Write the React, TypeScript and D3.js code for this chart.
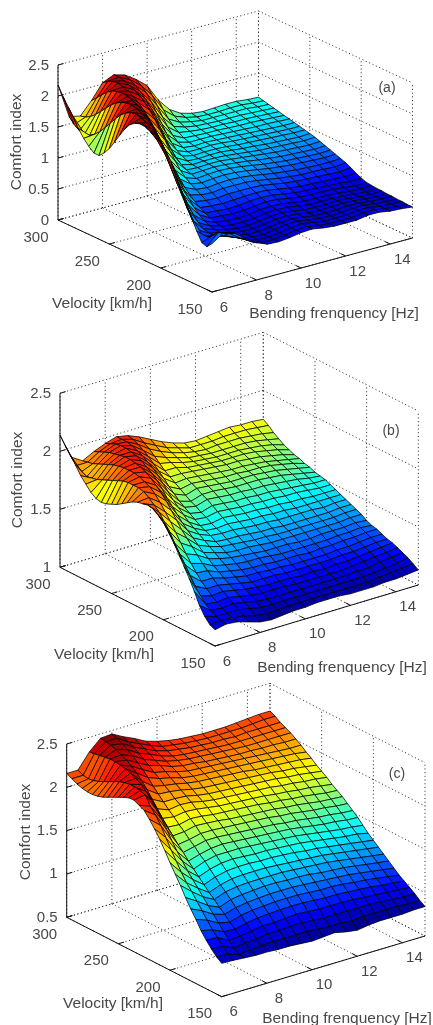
import { useEffect, useRef } from 'react';
import * as d3 from 'd3';

const velocities = d3.range(300, 149, -5);
const frequencies = d3.range(6, 15.01, 0.5);
const velocityTicks = [300, 250, 200, 150];
const frequencyTicks = [6, 8, 10, 12, 14];

// comfort index, one list per bending frequency (6..15 Hz), velocity 300 -> 150 km/h
const comfortA = [
  [2.18,2.03,1.90,1.78,1.63,1.51,1.42,1.35,1.35,1.43,1.54,1.68,1.83,1.97,2.08,2.14,2.17,2.16,2.12,2.07,2.02,1.91,1.79,1.60,1.41,1.21,1.05,.87,.72,.69,.78],
  [1.62,1.53,1.47,1.45,1.47,1.53,1.61,1.71,1.82,1.93,2.03,2.10,2.15,2.16,2.14,2.10,2.05,1.97,1.85,1.70,1.53,1.36,1.20,1.03,.88,.76,.70,.72,.79,.87,.90],
  [1.58,1.60,1.65,1.72,1.81,1.90,1.99,2.06,2.11,2.14,2.14,2.12,2.08,2.03,1.95,1.83,1.70,1.55,1.40,1.25,1.10,.96,.84,.75,.69,.66,.66,.69,.74,.81,.85],
  [1.78,1.86,1.95,2.03,2.09,2.12,2.13,2.12,2.09,2.05,1.99,1.92,1.83,1.72,1.59,1.45,1.31,1.17,1.04,.93,.83,.75,.69,.65,.63,.62,.62,.63,.66,.69,.72],
  [2.02,2.08,2.12,2.13,2.11,2.08,2.03,1.97,1.89,1.80,1.69,1.56,1.42,1.29,1.16,1.05,.95,.87,.80,.74,.69,.65,.62,.60,.58,.57,.56,.56,.57,.58,.60],
  [2.10,2.10,2.08,2.05,2.01,1.96,1.89,1.80,1.69,1.56,1.43,1.29,1.17,1.06,.98,.92,.87,.82,.77,.72,.68,.64,.60,.57,.55,.54,.53,.53,.52,.52,.53],
  [2.05,2.01,1.96,1.90,1.82,1.72,1.60,1.46,1.32,1.20,1.10,1.03,.98,.95,.92,.89,.85,.81,.76,.71,.66,.62,.59,.57,.55,.54,.53,.52,.52,.52,.52],
  [1.93,1.87,1.79,1.68,1.55,1.41,1.28,1.17,1.09,1.04,1.00,.98,.97,.96,.94,.91,.87,.83,.78,.72,.67,.63,.60,.58,.57,.56,.55,.55,.54,.54,.54],
  [1.78,1.66,1.53,1.39,1.27,1.17,1.10,1.05,1.02,1.00,.99,.99,.98,.97,.95,.92,.88,.83,.78,.73,.69,.65,.63,.61,.60,.59,.58,.58,.57,.57,.57],
  [1.50,1.38,1.27,1.19,1.13,1.08,1.05,1.03,1.02,1.01,1.00,.99,.98,.96,.94,.91,.87,.83,.78,.74,.70,.67,.64,.62,.61,.60,.59,.59,.59,.58,.58],
  [1.30,1.23,1.17,1.13,1.10,1.07,1.05,1.04,1.03,1.01,1.00,.98,.96,.94,.92,.89,.85,.81,.77,.73,.69,.66,.63,.61,.59,.58,.57,.56,.56,.55,.55],
  [1.19,1.16,1.13,1.10,1.08,1.06,1.05,1.03,1.02,1.00,.98,.96,.94,.92,.89,.86,.82,.78,.74,.70,.66,.63,.60,.58,.56,.55,.54,.54,.53,.53,.53],
  [1.14,1.12,1.10,1.09,1.07,1.06,1.04,1.02,1.00,.98,.96,.94,.92,.89,.86,.83,.79,.75,.71,.67,.63,.60,.58,.56,.55,.54,.54,.53,.53,.53,.53],
  [1.12,1.11,1.10,1.08,1.07,1.05,1.03,1.01,.99,.97,.95,.92,.90,.87,.84,.81,.77,.73,.69,.65,.62,.59,.57,.56,.55,.55,.54,.54,.54,.53,.53],
  [1.13,1.11,1.10,1.08,1.06,1.04,1.02,1.00,.98,.96,.93,.91,.88,.85,.82,.79,.75,.71,.68,.64,.61,.59,.57,.56,.56,.56,.56,.56,.56,.56,.56],
  [1.14,1.12,1.10,1.08,1.06,1.04,1.01,.99,.97,.95,.92,.90,.87,.84,.81,.78,.74,.71,.67,.63,.60,.58,.56,.55,.55,.55,.55,.56,.56,.56,.56],
  [1.14,1.12,1.10,1.07,1.05,1.03,1.01,.98,.96,.94,.91,.89,.86,.83,.80,.77,.73,.70,.66,.62,.59,.56,.54,.53,.53,.53,.53,.53,.53,.53,.53],
  [1.12,1.10,1.08,1.06,1.04,1.02,1.00,.97,.95,.93,.90,.88,.85,.82,.79,.76,.73,.69,.65,.61,.57,.54,.53,.52,.52,.52,.52,.52,.52,.52,.52],
  [1.11,1.09,1.07,1.05,1.03,1.01,.99,.97,.95,.93,.91,.89,.86,.83,.80,.77,.74,.71,.67,.62,.58,.55,.54,.53,.53,.52,.52,.51,.51,.50,.50],
];

const comfortB = [
  [2.14,2.07,2.01,1.95,1.88,1.83,1.78,1.75,1.74,1.75,1.77,1.79,1.82,1.85,1.88,1.90,1.91,1.92,1.91,1.88,1.84,1.78,1.71,1.63,1.55,1.47,1.38,1.28,1.21,1.16,1.14],
  [1.92,1.87,1.84,1.82,1.83,1.84,1.86,1.88,1.90,1.92,1.94,1.95,1.95,1.95,1.94,1.91,1.87,1.83,1.77,1.71,1.63,1.56,1.49,1.42,1.35,1.29,1.24,1.21,1.18,1.17,1.16],
  [1.86,1.87,1.88,1.90,1.92,1.94,1.96,1.97,1.98,1.98,1.98,1.97,1.95,1.93,1.89,1.84,1.78,1.72,1.65,1.58,1.51,1.45,1.39,1.34,1.30,1.26,1.23,1.20,1.18,1.16,1.15],
  [1.91,1.93,1.95,1.97,1.98,1.99,2.00,2.00,1.99,1.98,1.96,1.93,1.89,1.85,1.80,1.74,1.68,1.62,1.57,1.52,1.47,1.42,1.38,1.34,1.30,1.27,1.24,1.21,1.18,1.15,1.12],
  [1.95,1.97,1.99,2.00,2.00,1.99,1.98,1.96,1.93,1.90,1.86,1.81,1.75,1.70,1.65,1.60,1.56,1.52,1.48,1.44,1.41,1.37,1.34,1.31,1.28,1.25,1.22,1.19,1.16,1.12,1.09],
  [1.98,1.98,1.98,1.97,1.95,1.93,1.90,1.87,1.83,1.78,1.73,1.68,1.64,1.60,1.56,1.53,1.50,1.47,1.44,1.41,1.38,1.35,1.32,1.29,1.26,1.23,1.20,1.17,1.14,1.11,1.08],
  [1.96,1.95,1.93,1.90,1.87,1.83,1.79,1.75,1.70,1.66,1.62,1.59,1.56,1.53,1.50,1.48,1.46,1.43,1.41,1.38,1.36,1.33,1.30,1.27,1.24,1.22,1.19,1.16,1.14,1.11,1.09],
  [1.92,1.89,1.86,1.82,1.78,1.74,1.71,1.68,1.65,1.62,1.59,1.57,1.54,1.52,1.49,1.47,1.45,1.42,1.40,1.37,1.35,1.32,1.29,1.27,1.24,1.21,1.19,1.16,1.14,1.12,1.10],
  [1.87,1.84,1.81,1.78,1.76,1.74,1.71,1.69,1.67,1.65,1.62,1.60,1.57,1.54,1.51,1.48,1.45,1.42,1.39,1.37,1.34,1.32,1.29,1.26,1.24,1.21,1.19,1.16,1.14,1.12,1.10],
  [1.82,1.79,1.77,1.75,1.73,1.71,1.70,1.68,1.66,1.64,1.62,1.59,1.56,1.53,1.50,1.47,1.44,1.41,1.38,1.36,1.33,1.31,1.28,1.26,1.23,1.21,1.18,1.16,1.14,1.12,1.11],
  [1.78,1.76,1.74,1.72,1.71,1.70,1.69,1.67,1.65,1.63,1.61,1.58,1.55,1.52,1.49,1.46,1.43,1.40,1.38,1.35,1.33,1.30,1.28,1.25,1.23,1.20,1.18,1.16,1.14,1.12,1.11],
  [1.75,1.73,1.72,1.71,1.70,1.69,1.68,1.66,1.64,1.62,1.60,1.58,1.55,1.52,1.49,1.46,1.43,1.40,1.37,1.35,1.33,1.30,1.28,1.25,1.23,1.21,1.18,1.16,1.14,1.12,1.11],
  [1.74,1.73,1.71,1.70,1.69,1.68,1.67,1.65,1.64,1.62,1.60,1.57,1.54,1.51,1.48,1.45,1.42,1.39,1.37,1.35,1.32,1.30,1.27,1.25,1.23,1.20,1.18,1.16,1.14,1.12,1.10],
  [1.75,1.73,1.72,1.70,1.69,1.68,1.67,1.65,1.63,1.62,1.60,1.57,1.54,1.51,1.48,1.45,1.42,1.39,1.37,1.35,1.32,1.30,1.28,1.25,1.23,1.21,1.18,1.16,1.14,1.12,1.10],
  [1.76,1.74,1.72,1.70,1.69,1.68,1.66,1.64,1.63,1.61,1.59,1.56,1.53,1.50,1.47,1.44,1.42,1.39,1.37,1.35,1.33,1.30,1.28,1.26,1.24,1.21,1.19,1.17,1.14,1.12,1.10],
  [1.77,1.74,1.72,1.70,1.68,1.67,1.65,1.63,1.62,1.60,1.58,1.55,1.52,1.50,1.47,1.44,1.42,1.39,1.37,1.35,1.33,1.31,1.29,1.26,1.24,1.22,1.20,1.17,1.15,1.13,1.11],
  [1.76,1.74,1.71,1.69,1.67,1.65,1.63,1.61,1.60,1.58,1.56,1.54,1.51,1.49,1.46,1.44,1.41,1.39,1.37,1.35,1.33,1.31,1.29,1.27,1.25,1.23,1.21,1.19,1.16,1.14,1.11],
  [1.76,1.73,1.70,1.67,1.65,1.63,1.61,1.59,1.58,1.56,1.54,1.52,1.50,1.48,1.46,1.44,1.42,1.40,1.38,1.36,1.34,1.32,1.30,1.28,1.26,1.24,1.22,1.20,1.17,1.15,1.12],
  [1.75,1.72,1.68,1.65,1.62,1.60,1.58,1.57,1.55,1.54,1.52,1.51,1.50,1.48,1.46,1.44,1.42,1.40,1.38,1.36,1.33,1.31,1.30,1.28,1.26,1.25,1.23,1.21,1.19,1.16,1.13],
];

const comfortC = [
  [2.16,2.13,2.10,2.08,2.07,2.07,2.08,2.10,2.13,2.16,2.19,2.22,2.245,2.25,2.22,2.19,2.12,2.04,1.95,1.85,1.74,1.64,1.54,1.43,1.33,1.24,1.14,1.06,.99,.93,.885],
  [2.16,2.13,2.12,2.13,2.15,2.18,2.21,2.24,2.27,2.29,2.30,2.30,2.29,2.27,2.17,2.10,2.01,1.90,1.79,1.69,1.59,1.50,1.43,1.35,1.27,1.19,1.11,1.05,.98,.92,.88],
  [2.33,2.34,2.35,2.36,2.37,2.37,2.36,2.35,2.33,2.30,2.26,2.21,2.14,2.06,1.98,1.89,1.79,1.70,1.62,1.54,1.47,1.40,1.33,1.26,1.19,1.12,1.05,.98,.92,.88,.87],
  [2.45,2.44,2.43,2.41,2.38,2.35,2.31,2.26,2.20,2.13,2.05,1.97,1.89,1.82,1.75,1.68,1.62,1.55,1.49,1.43,1.37,1.31,1.26,1.20,1.15,1.09,1.04,.99,.94,.89,.86],
  [2.46,2.44,2.41,2.37,2.33,2.28,2.23,2.17,2.10,2.04,1.98,1.92,1.87,1.81,1.76,1.70,1.65,1.59,1.54,1.48,1.42,1.36,1.31,1.25,1.19,1.13,1.07,1.01,.95,.90,.86],
  [2.39,2.36,2.33,2.29,2.25,2.21,2.16,2.12,2.07,2.03,1.98,1.94,1.89,1.84,1.79,1.73,1.68,1.62,1.57,1.51,1.45,1.39,1.33,1.27,1.21,1.15,1.09,1.03,.97,.91,.85],
  [2.33,2.30,2.27,2.24,2.20,2.17,2.13,2.09,2.05,2.01,1.97,1.93,1.88,1.83,1.78,1.73,1.68,1.63,1.57,1.52,1.46,1.40,1.34,1.28,1.22,1.16,1.10,1.03,.97,.91,.85],
  [2.26,2.24,2.21,2.18,2.15,2.12,2.09,2.05,2.02,1.98,1.94,1.90,1.86,1.81,1.77,1.72,1.67,1.62,1.57,1.51,1.46,1.40,1.34,1.29,1.23,1.17,1.11,1.04,.98,.91,.84],
  [2.22,2.19,2.17,2.14,2.12,2.09,2.06,2.03,2.00,1.96,1.92,1.88,1.84,1.80,1.75,1.71,1.66,1.61,1.56,1.50,1.45,1.40,1.34,1.29,1.23,1.17,1.11,1.05,.98,.91,.83],
  [2.19,2.17,2.15,2.12,2.10,2.08,2.05,2.02,1.99,1.95,1.91,1.87,1.83,1.79,1.74,1.70,1.65,1.60,1.55,1.50,1.45,1.39,1.34,1.28,1.23,1.17,1.11,1.04,.97,.90,.84],
  [2.17,2.15,2.13,2.11,2.09,2.06,2.04,2.01,1.98,1.94,1.90,1.86,1.82,1.78,1.73,1.69,1.64,1.59,1.54,1.49,1.44,1.38,1.33,1.28,1.22,1.16,1.10,1.03,.96,.89,.85],
  [2.16,2.14,2.12,2.10,2.08,2.05,2.03,2.00,1.97,1.93,1.89,1.85,1.81,1.77,1.72,1.68,1.63,1.58,1.53,1.48,1.43,1.37,1.32,1.27,1.21,1.15,1.09,1.03,.96,.89,.82],
  [2.15,2.13,2.11,2.09,2.07,2.04,2.02,1.99,1.96,1.92,1.88,1.84,1.80,1.75,1.71,1.66,1.61,1.57,1.52,1.47,1.41,1.36,1.31,1.25,1.20,1.15,1.09,1.03,.96,.88,.80],
  [2.15,2.13,2.11,2.08,2.06,2.03,2.01,1.98,1.94,1.91,1.87,1.83,1.78,1.74,1.69,1.65,1.60,1.55,1.50,1.45,1.40,1.35,1.30,1.24,1.19,1.14,1.08,1.02,.96,.89,.82],
  [2.15,2.13,2.10,2.08,2.05,2.03,2.00,1.97,1.93,1.90,1.86,1.81,1.77,1.72,1.68,1.63,1.58,1.53,1.48,1.43,1.38,1.33,1.28,1.23,1.18,1.12,1.07,1.01,.96,.89,.83],
  [2.16,2.13,2.11,2.08,2.05,2.02,1.99,1.96,1.92,1.88,1.84,1.80,1.75,1.71,1.66,1.61,1.56,1.51,1.46,1.41,1.36,1.31,1.26,1.21,1.16,1.11,1.06,1.00,.95,.89,.83],
  [2.17,2.14,2.11,2.08,2.05,2.02,1.98,1.95,1.91,1.87,1.83,1.78,1.74,1.69,1.64,1.60,1.55,1.50,1.44,1.39,1.34,1.29,1.24,1.19,1.14,1.09,1.04,.99,.94,.89,.83],
  [2.18,2.15,2.11,2.08,2.05,2.01,1.97,1.94,1.90,1.85,1.81,1.77,1.72,1.67,1.63,1.58,1.53,1.48,1.43,1.38,1.32,1.27,1.22,1.17,1.12,1.07,1.03,.98,.93,.88,.84],
  [2.18,2.15,2.11,2.08,2.05,2.01,1.97,1.92,1.88,1.83,1.79,1.75,1.70,1.66,1.62,1.57,1.52,1.47,1.41,1.35,1.30,1.25,1.20,1.15,1.10,1.05,1.01,.97,.93,.88,.84],
];

const panels = [
  {
    tag: '(a)', values: comfortA, zTicks: ['0', '0.5', '1', '1.5', '2', '2.5'], zDomain: [0, 2.5], colorDomain: [0.38, 2.2],
    A: [58, 220], F: [212, 292], R: [412.5, 238], zHeight: 155,
    zLabel: [15, 142], vLabel: [102, 302], fLabel: [334, 312], tagPos: [387, 87],
  },
  {
    tag: '(b)', values: comfortB, zTicks: ['1', '1.5', '2', '2.5'], zDomain: [1, 2.5], colorDomain: [1.06, 2.16],
    A: [60, 567.3], F: [215, 646], R: [418.3, 585], zHeight: 174,
    zLabel: [16, 480], vLabel: [104, 653], fLabel: [342, 666], tagPos: [391, 430],
  },
  {
    tag: '(c)', values: comfortC, zTicks: ['0.5', '1', '1.5', '2', '2.5'], zDomain: [0.5, 2.5], colorDomain: [0.78, 2.46],
    A: [66.7, 917.3], F: [221.7, 996.7], R: [425, 936], zHeight: 173.3,
    zLabel: [24, 832], vLabel: [113, 1002], fLabel: [347, 1017], tagPos: [397, 773],
  },
];

const jet = d3.scaleLinear<string>()
  .domain([0, 0.125, 0.375, 0.625, 0.875, 1])
  .range(['#000080', '#0000ff', '#00ffff', '#ffff00', '#ff0000', '#800000'])
  .clamp(true);

const FONT = '"Liberation Sans", Arial, sans-serif';
const TEXT = '#484848';

function drawPanel(svg: any, p: any) {
  const u = d3.scaleLinear().domain([300, 150]).range([0, 1]);
  const w = d3.scaleLinear().domain([6, 15]).range([0, 1]);
  const zh = d3.scaleLinear().domain(p.zDomain).range([0, p.zHeight]);
  const color = d3.scaleLinear().domain(p.colorDomain).range([0, 1]);

  const ground = (v: number, f: number) => [
    p.A[0] + u(v) * (p.F[0] - p.A[0]) + w(f) * (p.R[0] - p.F[0]),
    p.A[1] + u(v) * (p.F[1] - p.A[1]) + w(f) * (p.R[1] - p.F[1]),
  ];
  const project = (v: number, f: number, z: number) => {
    const [x, y] = ground(v, f);
    return [x, y - zh(z)];
  };

  const g = svg.append('g');
  const segment = (a: number[], b: number[], cls: string) =>
    g.append('line').attr('class', cls)
      .attr('x1', a[0]).attr('y1', a[1]).attr('x2', b[0]).attr('y2', b[1]);

  const [z0, z1] = p.zDomain;
  const zValues = p.zTicks.map(Number);
  const wallF = [...frequencyTicks, 15];

  // grid: floor and the two back walls
  velocityTicks.forEach(v => {
    segment(project(v, 6, z0), project(v, 15, z0), 'grid');
    segment(project(v, 15, z0), project(v, 15, z1), 'grid');
  });
  wallF.forEach(f => {
    segment(project(300, f, z0), project(150, f, z0), 'grid');
    segment(project(300, f, z0), project(300, f, z1), 'grid');
  });
  zValues.forEach((z: number) => {
    segment(project(300, 6, z), project(300, 15, z), 'grid');
    segment(project(300, 15, z), project(150, 15, z), 'grid');
  });
  g.selectAll('line.grid')
    .attr('stroke', '#333').attr('stroke-width', 1).attr('stroke-dasharray', '1.1 2.6');

  // axes
  segment(project(300, 6, z0), project(300, 6, z1), 'axis');
  segment(project(300, 6, z0), project(150, 6, z0), 'axis');
  segment(project(150, 6, z0), project(150, 15, z0), 'axis');
  zValues.forEach((z: number) => segment(project(300, 6, z), project(300, 6.25, z), 'axis'));
  velocityTicks.forEach(v => segment(project(v, 6, z0), project(v, 6.25, z0), 'axis'));
  frequencyTicks.forEach(f => segment(project(150, f, z0), project(155, f, z0), 'axis'));
  g.selectAll('line.axis').attr('stroke', '#111').attr('stroke-width', 1);

  // surface faces, far to near; a face takes the colour of its near low-frequency corner
  const faces: { d: string; fill: string; depth: number }[] = [];
  for (let j = 0; j < frequencies.length - 1; j++) {
    for (let i = 0; i < velocities.length - 1; i++) {
      const corners = [[i, j], [i + 1, j], [i + 1, j + 1], [i, j + 1]];
      const pts = corners.map(([a, b]) => project(velocities[a], frequencies[b], p.values[b][a]));
      const depth = d3.mean(corners, ([a, b]) => ground(velocities[a], frequencies[b])[1]) as number;
      faces.push({
        d: `M${pts.map(q => q.map(n => n.toFixed(2)).join(',')).join('L')}Z`,
        fill: jet(color(p.values[j][i + 1])),
        depth,
      });
    }
  }
  faces.sort((a, b) => a.depth - b.depth);
  g.append('g').selectAll('path').data(faces).enter().append('path')
    .attr('d', (d: any) => d.d)
    .attr('fill', (d: any) => d.fill)
    .attr('stroke', '#000')
    .attr('stroke-width', 0.75)
    .attr('stroke-linejoin', 'round');

  // text
  const label = (s: string, x: number, y: number, size = 15) =>
    g.append('text').attr('x', x).attr('y', y)
      .attr('text-anchor', 'middle').attr('dominant-baseline', 'central')
      .style('font-family', FONT).style('font-size', `${size}px`).style('fill', TEXT)
      .text(s);

  p.zTicks.forEach((s: string) => {
    const [x, y] = project(300, 6, Number(s));
    label(s, x - 9, y - 1, 15).attr('text-anchor', 'end');
  });
  velocityTicks.forEach(v => {
    const [x, y] = project(v, 6, z0);
    label(String(v), x - 22, y + 16);
  });
  frequencyTicks.forEach(f => {
    const [x, y] = project(150, f, z0);
    label(String(f), x + 12, y + 14);
  });
  label('Comfort index', p.zLabel[0], p.zLabel[1], 15.5)
    .attr('transform', `rotate(-90 ${p.zLabel[0]} ${p.zLabel[1]})`);
  label('Velocity [km/h]', p.vLabel[0], p.vLabel[1], 15.5);
  label('Bending frenquency [Hz]', p.fLabel[0], p.fLabel[1], 15.5);
  label(p.tag, p.tagPos[0], p.tagPos[1], 14);
}

export default function App() {
  const ref = useRef<SVGSVGElement>(null);

  useEffect(() => {
    const svg = d3.select(ref.current);
    svg.selectAll('*').remove();
    panels.forEach(p => drawPanel(svg, p));
  }, []);

  return (
    <svg
      ref={ref}
      width={433}
      height={1025}
      style={{ position: 'absolute', left: 0, top: 0, background: '#fff', filter: 'blur(0.35px)' }}
    />
  );
}
